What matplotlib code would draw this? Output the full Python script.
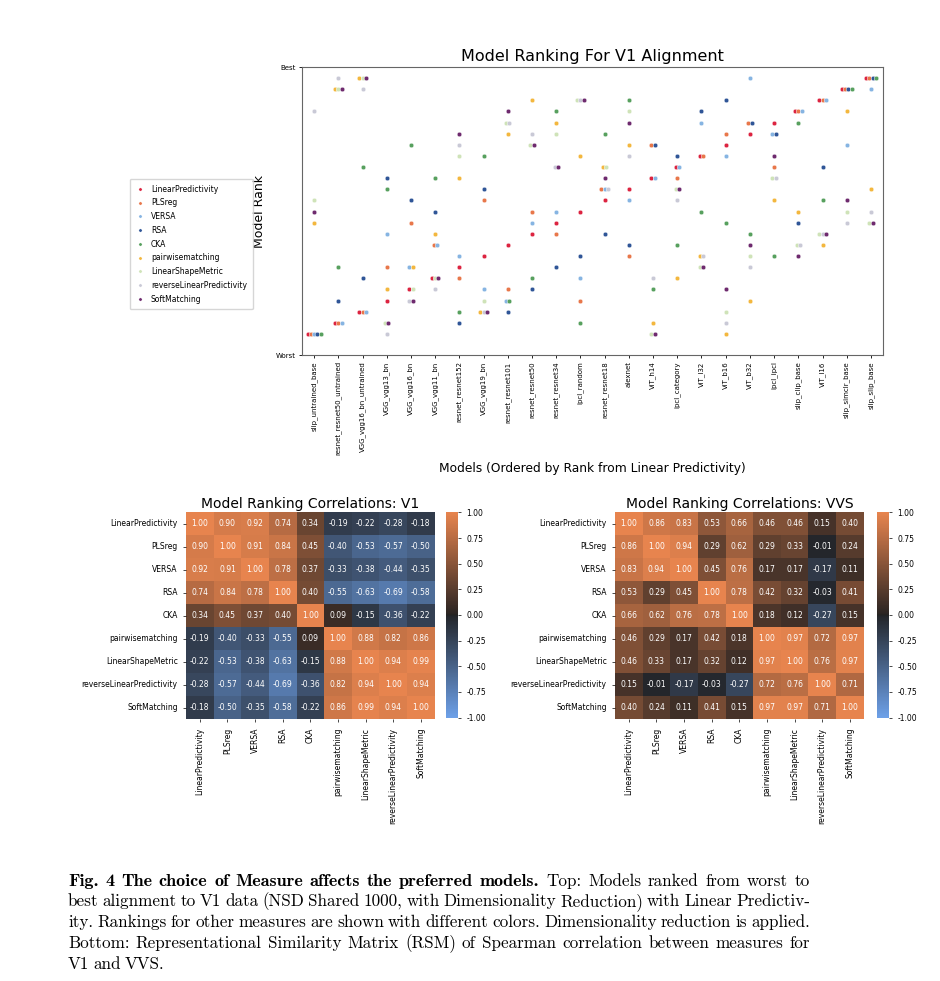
import matplotlib.pyplot as plt
import numpy as np
import seaborn as sns

models = [
    "slip_untrained_base", "resnet_resnet50_untrained", "VGG_vgg16_bn_untrained",
    "VGG_vgg13_bn", "VGG_vgg16_bn", "VGG_vgg11_bn", "resnet_resnet152", "VGG_vgg19_bn",
    "resnet_resnet101", "resnet_resnet50", "resnet_resnet34", "ipcl_random",
    "resnet_resnet18", "alexnet", "ViT_h14", "ipcl_category", "ViT_l32", "ViT_b16",
    "ViT_b32", "ipcl_ipcl", "slip_clip_base", "ViT_l16", "slip_simclr_base", "slip_slip_base",
]
measures = [
    "LinearPredictivity", "PLSreg", "VERSA", "RSA", "CKA", "pairwisematching",
    "LinearShapeMetric", "reverseLinearPredictivity", "SoftMatching",
]
colors = ["#dc2340", "#e8774a", "#86b4e2", "#2f5597", "#57a05e", "#f3b73e",
          "#cfe3b8", "#c9c9d6", "#6e2a6e"]

# rank of each model (1 = worst, 24 = best), in model order
rank_lp = [1, 2, 3, 4, 5, 6, 7, 8, 9, 10, 11, 12, 13, 14, 15, 16, 17, 18, 19, 20, 21, 22, 23, 24]
rank_pls = [1, 2, 3, 7, 11, 9, 6, 13, 5, 12, 10, 4, 14, 8, 18, 15, 17, 19, 20, 16, 21, 22, 23, 24]
rank_versa = [1, 2, 3, 10, 7, 9, 8, 5, 4, 11, 12, 6, 14, 13, 15, 16, 20, 17, 24, 19, 21, 22, 18, 23]
rank_rsa = [1, 4, 6, 15, 13, 12, 2, 14, 3, 5, 7, 8, 10, 9, 18, 17, 21, 22, 20, 19, 11, 16, 23, 24]
rank_cka = [1, 7, 16, 14, 18, 15, 3, 17, 4, 6, 21, 2, 19, 22, 5, 9, 12, 11, 10, 8, 20, 13, 23, 24]
rank_pair = [11, 23, 24, 5, 7, 10, 15, 3, 19, 22, 20, 17, 16, 18, 2, 6, 8, 1, 4, 13, 12, 9, 21, 14]
rank_lsm = [13, 23, 24, 2, 5, 6, 17, 4, 20, 18, 19, 22, 16, 21, 1, 14, 7, 3, 8, 15, 9, 10, 12, 11]
rank_revlp = [21, 24, 23, 1, 4, 5, 18, 3, 20, 19, 16, 22, 14, 17, 6, 13, 8, 2, 7, 15, 9, 10, 11, 12]
rank_soft = [12, 23, 24, 2, 4, 6, 19, 3, 21, 18, 16, 22, 15, 20, 1, 14, 7, 5, 9, 17, 8, 10, 13, 11]

v1_corr = [
    [1.00, 0.90, 0.92, 0.74, 0.34, -0.19, -0.22, -0.28, -0.18],
    [0.90, 1.00, 0.91, 0.84, 0.45, -0.40, -0.53, -0.57, -0.50],
    [0.92, 0.91, 1.00, 0.78, 0.37, -0.33, -0.38, -0.44, -0.35],
    [0.74, 0.84, 0.78, 1.00, 0.40, -0.55, -0.63, -0.69, -0.58],
    [0.34, 0.45, 0.37, 0.40, 1.00, 0.09, -0.15, -0.36, -0.22],
    [-0.19, -0.40, -0.33, -0.55, 0.09, 1.00, 0.88, 0.82, 0.86],
    [-0.22, -0.53, -0.38, -0.63, -0.15, 0.88, 1.00, 0.94, 0.99],
    [-0.28, -0.57, -0.44, -0.69, -0.36, 0.82, 0.94, 1.00, 0.94],
    [-0.18, -0.50, -0.35, -0.58, -0.22, 0.86, 0.99, 0.94, 1.00],
]
vvs_corr = [
    [1.00, 0.86, 0.83, 0.53, 0.66, 0.46, 0.46, 0.15, 0.40],
    [0.86, 1.00, 0.94, 0.29, 0.62, 0.29, 0.33, -0.01, 0.24],
    [0.83, 0.94, 1.00, 0.45, 0.76, 0.17, 0.17, -0.17, 0.11],
    [0.53, 0.29, 0.45, 1.00, 0.78, 0.42, 0.32, -0.03, 0.41],
    [0.66, 0.62, 0.76, 0.78, 1.00, 0.18, 0.12, -0.27, 0.15],
    [0.46, 0.29, 0.17, 0.42, 0.18, 1.00, 0.97, 0.72, 0.97],
    [0.46, 0.33, 0.17, 0.32, 0.12, 0.97, 1.00, 0.76, 0.97],
    [0.15, -0.01, -0.17, -0.03, -0.27, 0.72, 0.76, 1.00, 0.71],
    [0.40, 0.24, 0.11, 0.41, 0.15, 0.97, 0.97, 0.71, 1.00],
]
cbar_ticks = [-1.00, -0.75, -0.50, -0.25, 0.00, 0.25, 0.50, 0.75, 1.00]

caption_bold = "Fig. 4  The choice of Measure affects the preferred models."
caption_lines = [
    "Top: Models ranked from worst to",
    "best alignment to V1 data (NSD Shared 1000, with Dimensionality Reduction) with Linear Predictiv-",
    "ity. Rankings for other measures are shown with different colors. Dimensionality reduction is applied.",
    "Bottom: Representational Similarity Matrix (RSM) of Spearman correlation between measures for",
    "V1 and VVS.",
]

ranks = np.array([rank_lp, rank_pls, rank_versa, rank_rsa, rank_cka,
                  rank_pair, rank_lsm, rank_revlp, rank_soft])

fig = plt.figure(figsize=(9.4, 9.81), dpi=100)

# ---- top: rank scatter ----
ax = fig.add_axes([0.3213, 0.6381, 0.6181, 0.2936])
step = 0.135
for m in range(len(models)):
    col = ranks[:, m]
    for r in np.unique(col):
        idx = np.where(col == r)[0]
        offs = (np.arange(len(idx)) - (len(idx) - 1) / 2) * step
        for k, j in enumerate(idx):
            ax.scatter(m + offs[k], r, s=11, color=colors[j], edgecolor="white",
                       linewidth=0.3, zorder=3)

handles = [plt.Line2D([], [], ls="", marker="o", ms=2.3, color=c, mec="white", mew=0.2)
           for c in colors]
fig.legend(handles, measures, loc="upper left", bbox_to_anchor=(0.134, 0.8215),
           fontsize=5.5, frameon=True, handletextpad=0.7, labelspacing=0.62,
           borderpad=0.75, handlelength=1.3)

ax.set_xlim(-0.5, len(models) - 0.5)
ax.set_ylim(-0.9, 25)
ax.set_yticks([-0.9, 25])
ax.set_yticklabels(["Worst", "Best"], fontsize=5)
ax.set_xticks(range(len(models)))
ax.set_xticklabels(models, rotation=90, fontsize=5)
ax.tick_params(length=2.5, width=0.6, pad=2)
for s in ax.spines.values():
    s.set_linewidth(0.8)
    s.set_color("#666666")
ax.set_title("Model Ranking For V1 Alignment", fontsize=11.5, pad=4)
ax.set_ylabel("Model Rank", fontsize=9)
ax.yaxis.set_label_coords(-0.062, 0.5)
ax.set_xlabel("Models (Ordered by Rank from Linear Predictivity)", fontsize=8.8)
ax.xaxis.set_label_coords(0.5, -0.37)

# ---- bottom: correlation heatmaps ----
cmap = sns.diverging_palette(250, 30, l=65, center="dark", as_cmap=True)
panels = [
    (v1_corr, "Model Ranking Correlations: V1", 0.1979, 0.4745),
    (vvs_corr, "Model Ranking Correlations: VVS", 0.6543, 0.9330),
]
for data, title, left, cleft in panels:
    hax = fig.add_axes([left, 0.2666, 0.2645, 0.211])
    cax = fig.add_axes([cleft, 0.2686, 0.0128, 0.209])
    sns.heatmap(np.array(data), ax=hax, cbar_ax=cax, cmap=cmap, vmin=-1, vmax=1,
                annot=True, fmt=".2f", annot_kws={"size": 5.5, "color": "white"},
                xticklabels=measures, yticklabels=measures,
                cbar_kws={"ticks": cbar_ticks, "format": "%.2f"})
    hax.set_title(title, fontsize=10, pad=3)
    hax.tick_params(labelsize=5.5, length=2.5, width=0.5)
    hax.set_xticklabels(measures, rotation=90, fontsize=5.5)
    hax.set_yticklabels(measures, rotation=0, fontsize=5.5)
    cax.tick_params(labelsize=5.5, length=2.5, width=0.5)

# ---- caption (justified like the paper) ----
reg = ["cmr10", "DejaVu Serif"]
bold = ["cmb10", "DejaVu Serif"]
fs = 12.3
x_left, x_right = 68, 810
baselines = [886, 906, 927, 948, 969]
renderer = fig.canvas.get_renderer()
W = fig.bbox.width
H = fig.bbox.height


def put_line(words, base, justify):
    objs = [fig.text(0, 1 - base / H, w, fontsize=size, family=f, va="baseline", ha="left")
            for w, f, size in words]
    widths = [o.get_window_extent(renderer).width for o in objs]
    if justify and len(objs) > 1:
        gap = (x_right - x_left - sum(widths)) / (len(objs) - 1)
    else:
        gap = 4.0
    x = x_left
    for o, w in zip(objs, widths):
        o.set_x(x / W)
        x += w + gap


first = ([(w, bold, fs * 1.06) for w in caption_bold.split()]
         + [(w, reg, fs) for w in caption_lines[0].split()])
put_line(first, baselines[0], True)
for i, line in enumerate(caption_lines[1:], start=1):
    put_line([(w, reg, fs) for w in line.split()], baselines[i], i < len(caption_lines) - 1)

fig.savefig("out.png", dpi=100)
